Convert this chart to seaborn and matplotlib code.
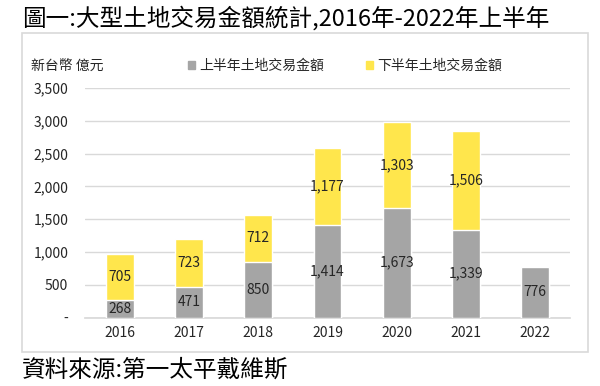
import matplotlib
matplotlib.use('Agg')
import matplotlib.pyplot as plt
import numpy as np
import pandas as pd
import seaborn as sns
from matplotlib.patches import Rectangle, Patch

sns.set_theme(style='white')
plt.rcParams['font.family'] = ['Noto Sans CJK TC', 'DejaVu Sans']

# 數據 (新台幣 億元)
years = ['2016', '2017', '2018', '2019', '2020', '2021', '2022']
first_half = [268, 471, 850, 1414, 1673, 1339, 776]
second_half = [705, 723, 712, 1177, 1303, 1506, np.nan]
yticks = [0, 500, 1000, 1500, 2000, 2500, 3000, 3500]
ytick_labels = ['-', '500', '1,000', '1,500', '2,000', '2,500', '3,000', '3,500']

gray = '#A5A5A5'
yellow = '#FFE64C'
txt = '#262626'

df = pd.DataFrame({'year': years, 'h1': first_half, 'h2': second_half})
df['total'] = df['h1'] + df['h2'].fillna(0)

fig = plt.figure(figsize=(6, 3.86), dpi=100)

# 外框
fig.patches.append(Rectangle((22 / 600, 1 - 352 / 386), 566 / 600, 319 / 386,
                             transform=fig.transFigure, fill=False,
                             edgecolor='#D9D9D9', linewidth=1.2))

ax = fig.add_axes([85 / 600, 1 - 317.6 / 386, 485 / 600, (317.6 - 88) / 386])

sns.barplot(data=df, x='year', y='total', color=yellow, width=0.4,
            saturation=1, ax=ax, zorder=3)
sns.barplot(data=df, x='year', y='h1', color=gray, width=0.4,
            saturation=1, ax=ax, zorder=3)

for i, row in df.iterrows():
    ax.text(i, row['h1'] / 2, f"{int(row['h1']):,}", ha='center', va='center',
            fontsize=10, color=txt, zorder=5)
    if not np.isnan(row['h2']):
        ax.text(i, row['h1'] + row['h2'] / 2, f"{int(row['h2']):,}",
                ha='center', va='center', fontsize=10, color=txt, zorder=5)

ax.set_ylim(0, 3500)
ax.set_yticks(yticks)
ax.set_yticklabels(ytick_labels)
ax.yaxis.grid(True, color='#D9D9D9', linewidth=1, zorder=0)
ax.set_axisbelow(True)
for s in ['left', 'right', 'top']:
    ax.spines[s].set_visible(False)
ax.spines['bottom'].set_color('#D9D9D9')
ax.tick_params(axis='both', length=0, labelsize=10, colors=txt)
ax.tick_params(axis='y', pad=12)
ax.tick_params(axis='x', pad=6)
ax.set_xlabel('')
ax.set_ylabel('')

# 單位與圖例
fig.text(31 / 600, 1 - 66 / 386, '新台幣 億元', fontsize=10, color=txt, va='center')
handles = [Patch(color=gray), Patch(color=yellow)]
fig.legend(handles, ['上半年土地交易金額', '下半年土地交易金額'],
           loc='center left', bbox_to_anchor=(188 / 600, 1 - 66 / 386),
           ncol=2, frameon=False, fontsize=10, handlelength=0.5,
           handleheight=0.5, handletextpad=0.3, columnspacing=3.0,
           labelcolor=txt, borderpad=0, borderaxespad=0)

fig.text(22 / 600, 1 - 18 / 386, '圖一:大型土地交易金額統計,2016年-2022年上半年',
         fontsize=17, color='black', va='center')
fig.text(22 / 600, 1 - 370 / 386, '資料來源:第一太平戴維斯',
         fontsize=17, color='black', va='center')

fig.savefig('out.png', dpi=100)
